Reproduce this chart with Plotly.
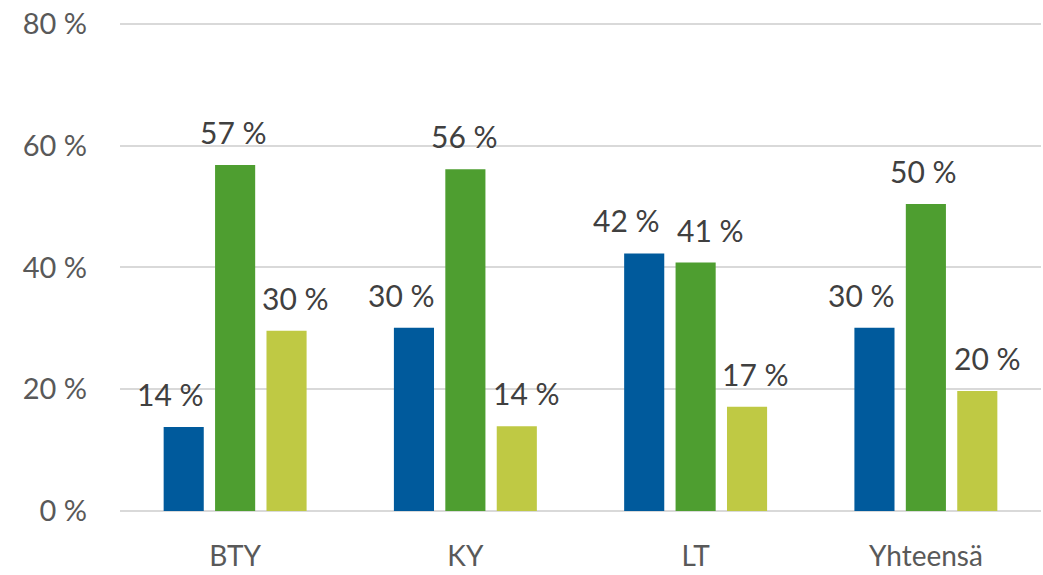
import plotly.graph_objects as go

categories = ["BTY", "KY", "LT", "Yhteensä"]
series_a = [13.8, 30.1, 42.3, 30.1]
series_b = [56.8, 56.1, 40.8, 50.4]
series_c = [29.6, 13.9, 17.1, 19.7]
series_list = [series_a, series_b, series_c]
colors = ["#005A9C", "#4E9E30", "#BFC944"]
names = ["Sarja 1", "Sarja 2", "Sarja 3"]

# label placement tweaks (pixels, relative to each bar centre)
label_dx = [[-13, -12, -18, -13], [-2, -1, 15, -2], [9, 10, 8, 10]]
label_dy = 33

font_family = "Lato, sans-serif"
W, H = 1043, 575
ML, MR, MT, MB = 120, 2, 22, 64
BARGAP, GROUPGAP = 0.33, 0.22

fig = go.Figure()
for vals, col, nm in zip(series_list, colors, names):
    fig.add_trace(go.Bar(
        x=categories, y=vals, name=nm,
        marker=dict(color=col, line=dict(width=0)),
        cliponaxis=False,
    ))

cat_px = (W - ML - MR) / len(categories)
slot_px = cat_px * (1 - BARGAP) / len(series_list)
for i, vals in enumerate(series_list):
    for j, v in enumerate(vals):
        fig.add_annotation(
            x=categories[j], y=v, xref="x", yref="y",
            text=f"{round(v):d} %", showarrow=False,
            xanchor="center", yanchor="middle",
            xshift=(i - 1) * slot_px + label_dx[i][j], yshift=label_dy,
            font=dict(size=30, color="#404040", family=font_family),
        )

fig.update_layout(
    width=W, height=H,
    margin=dict(l=ML, r=MR, t=MT, b=MB),
    paper_bgcolor="white", plot_bgcolor="white",
    barmode="group", bargap=BARGAP, bargroupgap=GROUPGAP,
    showlegend=False,
    font=dict(family=font_family, color="#595959", size=28),
    xaxis=dict(showgrid=False, showline=False, ticks="", tickfont=dict(size=28),
               ticklabelstandoff=26, automargin=False),
    yaxis=dict(range=[0, 80.3], dtick=20, tick0=0, ticksuffix=" %",
               showgrid=True, gridcolor="#D9D9D9", gridwidth=2, zeroline=True,
               zerolinecolor="#D9D9D9", zerolinewidth=2, showline=False,
               tickfont=dict(size=29), ticklabelstandoff=32,
               ticklabeloverflow="allow", automargin=False),
)
fig.write_html("out.html",
               config={"displayModeBar": False},
               post_script="document.body.style.margin='0';document.body.style.overflow='hidden';")
